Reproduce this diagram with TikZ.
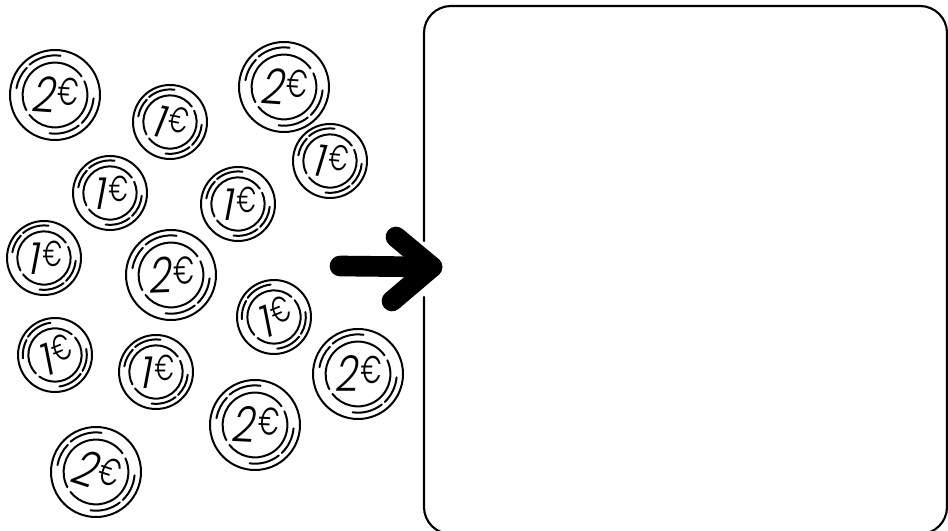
\documentclass[tikz,border=0pt]{standalone}
\usepackage{fontspec}
\usepackage{graphicx}
\newfontfamily\coinfont{Poppins Light}[FakeSlant=0.2]
\newfontfamily\eurofont{Poppins Light}[FakeSlant=0.06]
\newcommand{\twolabel}{\scalebox{0.8}[1]{\fontsize{37}{37}\selectfont 2}\hspace{2.5pt}\raisebox{6.5pt}{\scalebox{0.66}[1]{\eurofont\fontsize{29}{29}\selectfont €}}}
\newcommand{\onelabel}{\scalebox{0.95}[1]{\fontsize{33}{33}\selectfont 1}\hspace{2.5pt}\raisebox{6pt}{\scalebox{0.66}[1]{\eurofont\fontsize{27}{27}\selectfont €}}}
\tikzset{
  ink/.style={draw=black,line width=1.5pt,line cap=round},
  coinlabel/.style={inner sep=0pt,font=\coinfont},
  pics/coin/.style n args={3}{code={
    \draw[ink] (0,0) circle[radius=#1];
    \draw[ink] (82:{#1*0.88}) arc[start angle=82,end angle=130,radius={#1*0.88}];
    \draw[ink] (136:{#1*0.87}) arc[start angle=136,end angle=170,radius={#1*0.87}];
    \draw[ink] (-5:{#1*0.86}) arc[start angle=-5,end angle=-46,radius={#1*0.86}];
    \draw[ink] (-52:{#1*0.86}) arc[start angle=-52,end angle=-98,radius={#1*0.86}];
    \draw[ink] (35:{#1*0.72}) arc[start angle=35,end angle=208,radius={#1*0.72}];
    \draw[ink] (25:{#1*0.72}) arc[start angle=25,end angle=-142,radius={#1*0.72}];
    \node[coinlabel,rotate=#3] at (0,0) {#2};
  }},
  frame/.style={draw=black,line width=1.6pt,line cap=round},
  bigarrow/.style={draw=black,line width=15.5pt,line cap=round,line join=round}
}
\begin{document}
\begin{tikzpicture}[x=0.75pt,y=0.75pt]
\useasboundingbox (0,0) rectangle (948,531);
\clip (0,0) rectangle (948,531);
% y here = 531 - pixel row
\pic[rotate=0]  at (55,436)  {coin={45}{\twolabel}{-4}};
\pic[rotate=0]  at (284,444) {coin={45}{\twolabel}{-4}};
\pic[rotate=0]  at (171,256) {coin={45}{\twolabel}{2}};
\pic[rotate=0]  at (358,157) {coin={45}{\twolabel}{0}};
\pic[rotate=0]  at (255,106) {coin={45}{\twolabel}{-3}};
\pic[rotate=0]  at (96,59)   {coin={45}{\twolabel}{-18}};
\pic[rotate=0]  at (170,409) {coin={37}{\onelabel}{-11}};
\pic[rotate=0]  at (330,370) {coin={37}{\onelabel}{-6}};
\pic[rotate=0]  at (110,338) {coin={37}{\onelabel}{0}};
\pic[rotate=0]  at (238,327) {coin={37}{\onelabel}{0}};
\pic[rotate=0]  at (44,273)  {coin={37}{\onelabel}{0}};
\pic[rotate=14] at (274,214) {coin={37}{\onelabel}{22}};
\pic[rotate=16] at (55,176)  {coin={37}{\onelabel}{22}};
\pic[rotate=0]  at (156,159) {coin={37}{\onelabel}{0}};
% box, open where the arrow passes
\coordinate (gapTop) at (424,290);
\coordinate (gapBot) at (424,234);
\draw[frame] (gapBot) -- (424,24) arc[start angle=180,end angle=270,radius=27] -- (920,-3)
  arc[start angle=270,end angle=360,radius=27] -- (947,498)
  arc[start angle=0,end angle=90,radius=27] -- (451,525)
  arc[start angle=90,end angle=180,radius=27] -- (gapTop);
% arrow
\coordinate (tail) at (340,265);
\coordinate (tip) at (432,264);
\coordinate (upper) at (396,294);
\coordinate (lower) at (392,230);
\draw[bigarrow] (tail) -- (tip);
\draw[bigarrow] (upper) -- (tip) -- (lower);
\end{tikzpicture}
\end{document}
